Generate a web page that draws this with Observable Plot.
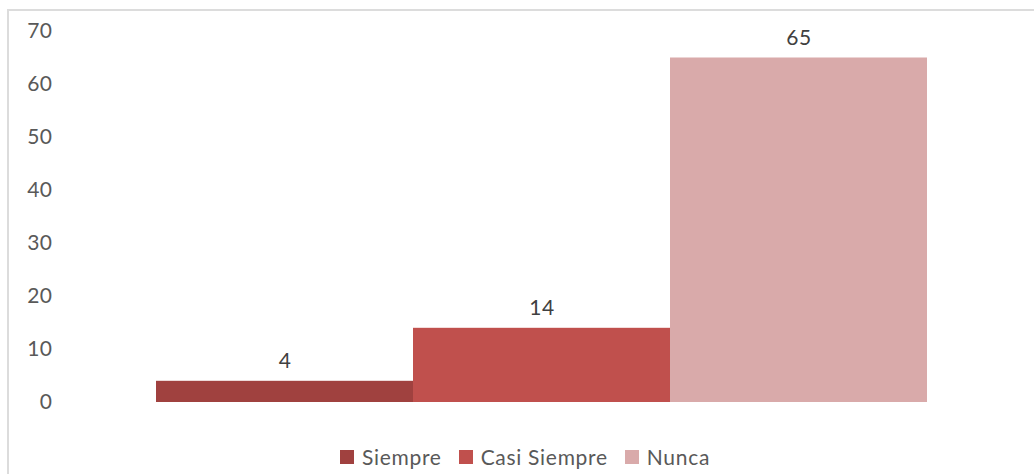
<!DOCTYPE html>
<html><head><meta charset="utf-8">
<script src="https://cdn.jsdelivr.net/npm/d3@7"></script>
<script src="https://cdn.jsdelivr.net/npm/@observablehq/plot@0.6"></script>
<style>
html,body{margin:0;padding:0;background:#fff;overflow:hidden;}
body{width:1034px;height:474px;position:relative;font-family:Lato,"Open Sans",sans-serif;}
#frame{position:absolute;left:7px;top:9px;width:1040px;height:480px;border:2px solid #dcdcdc;box-sizing:border-box;}
#chart{position:absolute;left:0;top:0;}
#legend{position:absolute;left:0;top:444px;width:1034px;display:flex;justify-content:center;gap:17px;font-size:21px;letter-spacing:0.7px;color:#595959;padding-left:16px;box-sizing:border-box;}
.item{display:flex;align-items:center;gap:8px;}
.sw{width:14px;height:14px;display:inline-block;}
</style></head>
<body>
<div id="frame"></div>
<div id="chart"></div>
<div id="legend"></div>
<script>
const categories = ["Siempre", "Casi Siempre", "Nunca"];
const values = [4, 14, 65];
const colors = ["#A0413F", "#C0504D", "#D9AAAA"];
const yTicks = [0, 10, 20, 30, 40, 50, 60, 70];

const data = categories.map((c, i) => ({cat: c, value: values[i]}));

const chart = Plot.plot({
  width: 1034,
  height: 422,
  marginLeft: 155,
  marginRight: 106,
  marginTop: 31,
  marginBottom: 20,
  style: {fontFamily: "Lato, sans-serif", fontSize: "21px", color: "#595959", background: "transparent", letterSpacing: "0.5px"},
  x: {domain: categories, padding: 0, axis: null},
  y: {domain: [0, 70], ticks: yTicks},
  color: {domain: categories, range: colors},
  marks: [
    Plot.axisY({ticks: yTicks, tickSize: 0, tickPadding: 103, label: null, fill: "#595959", fontSize: 21}),
    Plot.barY(data, {x: "cat", y: "value", fill: "cat"}),
    Plot.text(data, {x: "cat", y: "value", text: d => String(d.value), dy: -20, fill: "#404040", fontSize: 21})
  ]
});
document.getElementById("chart").appendChild(chart);

const legend = document.getElementById("legend");
categories.forEach((c, i) => {
  const item = document.createElement("span");
  item.className = "item";
  const sw = document.createElement("span");
  sw.className = "sw";
  sw.style.background = colors[i];
  const t = document.createElement("span");
  t.textContent = c;
  item.appendChild(sw);
  item.appendChild(t);
  legend.appendChild(item);
});
</script>
</body></html>
